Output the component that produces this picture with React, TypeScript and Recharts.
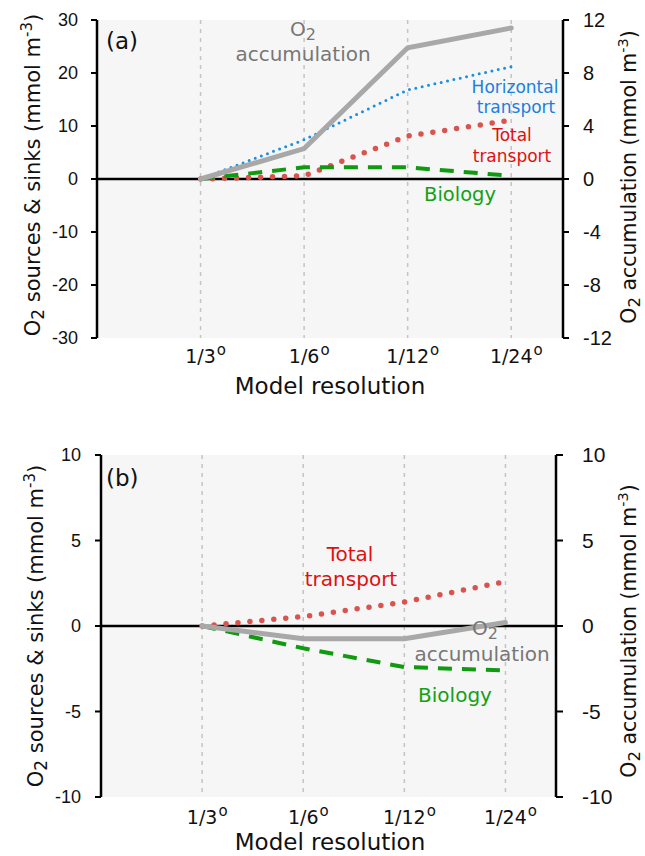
import React from 'react';
import { LineChart, Line, XAxis, YAxis, CartesianGrid, ReferenceLine } from 'recharts';

// model resolutions, placed at x = 1..4 on a 0..4.5 axis
const resolutions = ['1/3', '1/6', '1/12', '1/24'];
const xPos = [1, 2, 3, 4];

// panel (a) values, mmol m-3
const accumA = [0, 2.3, 9.9, 11.4]; // right axis
const horizA = [0, 7.4, 16.8, 21.2];
const totalA = [0, 0.6, 8.1, 11.1];
const bioA = [0, 2.2, 2.2, 0.6];

// panel (b) values, mmol m-3
const accumB = [0, -0.75, -0.75, 0.2]; // right axis
const totalB = [0, 0.55, 1.4, 2.6];
const bioB = [0, -1.3, -2.4, -2.6];

const leftTicksA = [-30, -20, -10, 0, 10, 20, 30];
const rightTicksA = [-12, -8, -4, 0, 4, 8, 12];
const ticksB = [-10, -5, 0, 5, 10];

const dataA = xPos.map((x, i) => ({ x, accum: accumA[i], horiz: horizA[i], total: totalA[i], bio: bioA[i] }));
const dataB = xPos.map((x, i) => ({ x, accum: accumB[i], total: totalB[i], bio: bioB[i] }));

const SANS = 'DejaVu Sans';
const NUM = 'Liberation Sans';
const GRAY = '#a8a8a8';
const BLUE = '#1a8fe0';
const RED = '#d9544e';
const GREEN = '#0f9a0f';

// rough DejaVu width, for centring the number part of "1/3°"
const textWidth = (s: string, fs: number) =>
  s.split('').reduce((w, c) => w + (c === '/' ? 0.337 : 0.636), 0) * fs;

const ResTick = ({ x, y, payload, dy }: any) => {
  const label = resolutions[payload.value - 1];
  if (!label) return null;
  const fs = 19;
  return (
    <g>
      <text x={x} y={y + dy} textAnchor="middle" fontFamily={SANS} fontSize={fs} fill="#111">
        {label}
      </text>
      <text x={x + textWidth(label, fs) / 2 + 1} y={y + dy - 8} fontFamily={SANS} fontSize={15} fill="#111">
        o
      </text>
    </g>
  );
};

const axisLine = { stroke: '#000', strokeWidth: 2.5 };
const tickLine = { stroke: '#000', strokeWidth: 2 };

const YTitle = ({ x, y, text, fs = 21 }: { x: number; y: number; text: string; fs?: number }) => (
  <text transform={`translate(${x},${y}) rotate(-90)`} textAnchor="middle" fontFamily={SANS} fontSize={fs} fill="#111">
    O<tspan dy={4} fontSize={fs - 4}>2</tspan>
    <tspan dy={-4}>{` ${text} (mmol m`}</tspan>
    <tspan dy={-8} fontSize={fs - 6}>-3</tspan>
    <tspan dy={8}>)</tspan>
  </text>
);

const O2Label = ({ x, y, color }: { x: number; y: number; color: string }) => (
  <text x={x} y={y} textAnchor="middle" fontFamily={SANS} fontSize={20} fill={color}>
    O<tspan dy={4} fontSize={16}>2</tspan>
  </text>
);

const Note = ({ x, y, fs, color, children }: any) => (
  <text x={x} y={y} textAnchor="middle" fontFamily={SANS} fontSize={fs} fill={color}>
    {children}
  </text>
);

export default function App() {
  return (
    <div style={{ position: 'absolute', left: 0, top: 0, width: 645, height: 856, background: '#fff' }}>
      <div style={{ position: 'absolute', left: 0, top: 0 }}>
        <LineChart width={645} height={430} data={dataA} margin={{ top: 20, right: 0, bottom: 0, left: 0 }}>
          <CartesianGrid yAxisId="left" horizontal={false} fill="#f6f6f6" stroke="#c4c4c4" strokeWidth={1.5} strokeDasharray="4 5" />
          <XAxis dataKey="x" type="number" domain={[0, 4.5]} ticks={xPos} height={92}
            axisLine={false} tickLine={false} tick={<ResTick dy={17} />} />
          <YAxis yAxisId="left" domain={[-30, 30]} ticks={leftTicksA} width={97} interval={0}
            axisLine={axisLine} tickLine={tickLine} tickSize={6} tickMargin={13}
            tick={{ fill: '#111', fontFamily: NUM, fontSize: 18 }} />
          <YAxis yAxisId="right" orientation="right" domain={[-12, 12]} ticks={rightTicksA} width={82} interval={0}
            axisLine={axisLine} tickLine={tickLine} tickSize={6} tickMargin={14}
            tick={{ fill: '#111', fontFamily: NUM, fontSize: 20 }} />
          <ReferenceLine yAxisId="left" y={0} stroke="#000" strokeWidth={2.5} />
          <Line yAxisId="left" dataKey="horiz" stroke={BLUE} strokeWidth={3} strokeDasharray="0 6.5" strokeLinecap="round" dot={false} isAnimationActive={false} />
          <Line yAxisId="left" dataKey="total" stroke={RED} strokeWidth={5.5} strokeDasharray="0 12" strokeLinecap="round" dot={false} isAnimationActive={false} />
          <Line yAxisId="left" dataKey="bio" stroke={GREEN} strokeWidth={4} strokeDasharray="14 10" dot={false} isAnimationActive={false} />
          <Line yAxisId="right" dataKey="accum" stroke={GRAY} strokeWidth={5} strokeLinecap="round" dot={false} isAnimationActive={false} />
        </LineChart>
      </div>
      <div style={{ position: 'absolute', left: 0, top: 430 }}>
        <LineChart width={645} height={426} data={dataB} margin={{ top: 25, right: 0, bottom: 0, left: 0 }}>
          <CartesianGrid yAxisId="left" horizontal={false} fill="#f6f6f6" stroke="#c4c4c4" strokeWidth={1.5} strokeDasharray="4 5" />
          <XAxis dataKey="x" type="number" domain={[0, 4.5]} ticks={xPos} height={59}
            axisLine={false} tickLine={false} tick={<ResTick dy={19} />} />
          <YAxis yAxisId="left" domain={[-10, 10]} ticks={ticksB} width={101} interval={0}
            axisLine={axisLine} tickLine={tickLine} tickSize={6} tickMargin={14}
            tick={{ fill: '#111', fontFamily: NUM, fontSize: 18 }} />
          <YAxis yAxisId="right" orientation="right" domain={[-10, 10]} ticks={ticksB} width={89} interval={0}
            axisLine={axisLine} tickLine={tickLine} tickSize={7} tickMargin={19}
            tick={{ fill: '#111', fontFamily: NUM, fontSize: 21 }} />
          <ReferenceLine yAxisId="left" y={0} stroke="#000" strokeWidth={2.5} />
          <Line yAxisId="left" dataKey="total" stroke={RED} strokeWidth={5.5} strokeDasharray="0 12" strokeLinecap="round" dot={false} isAnimationActive={false} />
          <Line yAxisId="left" dataKey="bio" stroke={GREEN} strokeWidth={4} strokeDasharray="14 10" dot={false} isAnimationActive={false} />
          <Line yAxisId="right" dataKey="accum" stroke={GRAY} strokeWidth={5} strokeLinecap="round" dot={false} isAnimationActive={false} />
        </LineChart>
      </div>
      <svg width={645} height={856} style={{ position: 'absolute', left: 0, top: 0, pointerEvents: 'none' }}>
        {/* panel (a) */}
        <text x={106} y={49} fontFamily={SANS} fontSize={23} fill="#111">(a)</text>
        <O2Label x={303} y={36} color="#777" />
        <Note x={303} y={61} fs={20} color="#777">accumulation</Note>
        <Note x={515} y={93} fs={17} color="#1a7fe0">Horizontal</Note>
        <Note x={516} y={113} fs={17} color="#1a7fe0">transport</Note>
        <Note x={512} y={141} fs={17} color="#e01010">Total</Note>
        <Note x={512} y={162} fs={17} color="#e01010">transport</Note>
        <Note x={460} y={201} fs={19.5} color="#14a014">Biology</Note>
        <YTitle x={40} y={175} text="sources & sinks" />
        <YTitle x={636} y={177} text="accumulation" fs={20.5} />
        <Note x={330} y={394} fs={23} color="#111">Model resolution</Note>

        {/* panel (b) */}
        <text x={106} y={486} fontFamily={SANS} fontSize={23} fill="#111">(b)</text>
        <Note x={350} y={561} fs={20} color="#e01010">Total</Note>
        <Note x={351} y={586} fs={20} color="#e01010">transport</Note>
        <O2Label x={485} y={635} color="#777" />
        <Note x={482} y={661} fs={20} color="#777">accumulation</Note>
        <Note x={455} y={702} fs={20} color="#14a014">Biology</Note>
        <YTitle x={43} y={626} text="sources & sinks" />
        <YTitle x={636} y={631} text="accumulation" fs={20.5} />
        <Note x={330} y={850} fs={23} color="#111">Model resolution</Note>
      </svg>
    </div>
  );
}
